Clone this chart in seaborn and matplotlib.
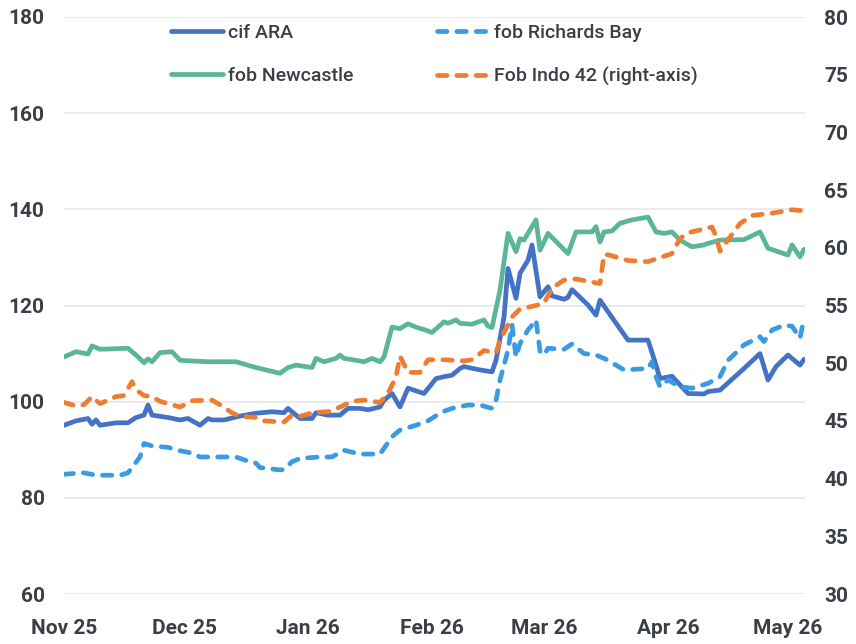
import pandas as pd
import matplotlib
matplotlib.use("Agg")
import matplotlib.pyplot as plt
import matplotlib.dates as mdates
import seaborn as sns

# --- data ---
ara_dates = ["2025-11-01", "2025-11-04", "2025-11-07", "2025-11-08", "2025-11-09", "2025-11-10",
             "2025-11-14", "2025-11-17", "2025-11-19", "2025-11-21", "2025-11-22", "2025-11-23",
             "2025-11-27", "2025-11-30", "2025-12-02", "2025-12-05", "2025-12-07", "2025-12-08",
             "2025-12-11", "2025-12-15", "2025-12-19", "2025-12-23", "2025-12-26", "2025-12-27",
             "2025-12-30", "2026-01-02", "2026-01-03", "2026-01-06", "2026-01-09", "2026-01-11",
             "2026-01-14", "2026-01-16", "2026-01-19", "2026-01-20", "2026-01-22", "2026-01-24",
             "2026-01-26", "2026-01-30", "2026-02-02", "2026-02-04", "2026-02-06", "2026-02-08",
             "2026-02-09", "2026-02-13", "2026-02-16", "2026-02-17", "2026-02-19", "2026-02-20",
             "2026-02-22", "2026-02-23", "2026-02-25", "2026-02-26", "2026-02-28", "2026-03-02",
             "2026-03-03", "2026-03-06", "2026-03-07", "2026-03-08", "2026-03-12", "2026-03-14",
             "2026-03-15", "2026-03-17", "2026-03-22", "2026-03-27", "2026-03-29", "2026-03-30",
             "2026-04-02", "2026-04-04", "2026-04-06", "2026-04-10", "2026-04-11", "2026-04-14",
             "2026-04-20", "2026-04-24", "2026-04-26", "2026-04-28", "2026-05-01", "2026-05-02",
             "2026-05-04", "2026-05-05"]
ara_vals = [95.1, 96.0, 96.5, 95.3, 96.2, 95.1,
            95.6, 95.6, 96.7, 97.2, 99.3, 97.2,
            96.7, 96.2, 96.5, 95.1, 96.5, 96.2,
            96.2, 97.0, 97.6, 97.9, 97.7, 98.6,
            96.5, 96.5, 97.7, 97.2, 97.2, 98.6,
            98.6, 98.3, 98.9, 100.3, 101.7, 98.9,
            102.8, 101.7, 104.8, 105.2, 105.5, 106.9,
            107.3, 106.6, 106.2, 108.6, 117.6, 127.7,
            121.5, 126.7, 129.4, 132.6, 121.8, 123.9,
            122.0, 121.3, 121.7, 123.3, 120.1, 118.0,
            121.1, 118.7, 112.8, 112.8, 107.6, 104.8,
            105.3, 103.5, 101.7, 101.6, 102.1, 102.4,
            106.9, 110.0, 104.5, 107.3, 109.7, 109.0,
            107.6, 108.8]

newc_dates = ["2025-11-01", "2025-11-04", "2025-11-07", "2025-11-08", "2025-11-10", "2025-11-17",
              "2025-11-19", "2025-11-21", "2025-11-22", "2025-11-23", "2025-11-25", "2025-11-28",
              "2025-11-30", "2025-12-07", "2025-12-14", "2025-12-19", "2025-12-25", "2025-12-27",
              "2025-12-29", "2026-01-02", "2026-01-03", "2026-01-05", "2026-01-08", "2026-01-09",
              "2026-01-10", "2026-01-13", "2026-01-15", "2026-01-17", "2026-01-19", "2026-01-20",
              "2026-01-22", "2026-01-24", "2026-01-26", "2026-01-28", "2026-01-30", "2026-02-01",
              "2026-02-04", "2026-02-05", "2026-02-07", "2026-02-08", "2026-02-11", "2026-02-14",
              "2026-02-15", "2026-02-16", "2026-02-18", "2026-02-20", "2026-02-22", "2026-02-23",
              "2026-02-24", "2026-02-27", "2026-02-28", "2026-03-02", "2026-03-07", "2026-03-09",
              "2026-03-13", "2026-03-14", "2026-03-15", "2026-03-16", "2026-03-18", "2026-03-20",
              "2026-03-23", "2026-03-27", "2026-03-29", "2026-03-31", "2026-04-02", "2026-04-04",
              "2026-04-07", "2026-04-10", "2026-04-11", "2026-04-14", "2026-04-20", "2026-04-24",
              "2026-04-26", "2026-05-01", "2026-05-02", "2026-05-04", "2026-05-05"]
newc_vals = [109.3, 110.4, 109.9, 111.6, 110.9, 111.1,
             109.7, 108.1, 108.9, 108.3, 110.2, 110.4,
             108.6, 108.3, 108.3, 107.1, 105.9, 107.1,
             107.6, 107.1, 109.0, 108.3, 109.0, 109.7,
             109.0, 108.6, 108.3, 109.0, 108.3, 109.3,
             115.5, 115.2, 116.2, 115.5, 115.0, 114.4,
             116.6, 116.3, 117.0, 116.3, 116.1, 117.0,
             115.7, 115.4, 123.2, 135.0, 131.2, 133.9,
             133.6, 137.8, 131.5, 135.0, 130.8, 135.3,
             135.3, 136.4, 133.2, 135.3, 135.5, 137.1,
             137.8, 138.4, 135.3, 135.0, 135.3, 133.6,
             132.2, 132.6, 132.9, 133.6, 133.7, 135.3,
             131.9, 130.5, 132.6, 130.1, 131.7]

rb_dates = ["2025-11-01", "2025-11-04", "2025-11-06", "2025-11-09", "2025-11-15", "2025-11-17",
            "2025-11-20", "2025-11-21", "2025-11-23", "2025-11-27", "2025-11-30", "2025-12-03",
            "2025-12-05", "2025-12-14", "2025-12-16", "2025-12-19", "2025-12-20", "2025-12-25",
            "2025-12-26", "2025-12-28", "2025-12-30", "2026-01-04", "2026-01-07", "2026-01-10",
            "2026-01-14", "2026-01-19", "2026-01-20", "2026-01-22", "2026-01-24", "2026-01-28",
            "2026-01-31", "2026-02-03", "2026-02-04", "2026-02-06", "2026-02-10", "2026-02-13",
            "2026-02-16", "2026-02-17", "2026-02-18", "2026-02-20", "2026-02-21", "2026-02-22",
            "2026-02-23", "2026-02-25", "2026-02-27", "2026-02-28", "2026-03-01", "2026-03-02",
            "2026-03-06", "2026-03-08", "2026-03-11", "2026-03-14", "2026-03-16", "2026-03-17",
            "2026-03-21", "2026-03-27", "2026-03-28", "2026-03-29", "2026-03-30", "2026-04-01",
            "2026-04-04", "2026-04-07", "2026-04-11", "2026-04-14", "2026-04-16", "2026-04-20",
            "2026-04-24", "2026-04-25", "2026-04-27", "2026-04-30", "2026-05-02", "2026-05-04",
            "2026-05-05"]
rb_vals = [84.9, 85.1, 85.2, 84.7, 84.7, 85.2,
           88.5, 91.3, 90.8, 90.5, 89.8, 89.3,
           88.5, 88.5, 87.9, 87.2, 86.3, 85.8,
           85.9, 87.5, 88.2, 88.5, 88.5, 89.9,
           89.1, 89.1, 90.3, 92.7, 94.1, 95.1,
           96.0, 97.6, 98.0, 98.6, 99.3, 99.3,
           98.6, 100.3, 104.5, 110.7, 116.0, 109.3,
           112.1, 114.9, 117.0, 110.5, 109.7, 111.1,
           110.9, 112.0, 110.0, 109.7, 109.0, 108.6,
           106.6, 106.9, 108.3, 105.2, 103.1, 104.5,
           103.1, 102.8, 103.8, 105.2, 108.6, 111.8,
           113.5, 112.5, 114.9, 115.9, 115.7, 113.2,
           117.3]

indo_dates = ["2025-11-01", "2025-11-04", "2025-11-06", "2025-11-08", "2025-11-10", "2025-11-14",
              "2025-11-16", "2025-11-18", "2025-11-19", "2025-11-21", "2025-11-23", "2025-11-25",
              "2025-11-30", "2025-12-03", "2025-12-08", "2025-12-10", "2025-12-13", "2025-12-15",
              "2025-12-19", "2025-12-21", "2025-12-26", "2025-12-28", "2025-12-30", "2026-01-02",
              "2026-01-06", "2026-01-09", "2026-01-12", "2026-01-15", "2026-01-19", "2026-01-21",
              "2026-01-23", "2026-01-24", "2026-01-26", "2026-01-29", "2026-01-31", "2026-02-04",
              "2026-02-09", "2026-02-11", "2026-02-14", "2026-02-17", "2026-02-18", "2026-02-21",
              "2026-02-23", "2026-02-27", "2026-03-01", "2026-03-03", "2026-03-06", "2026-03-09",
              "2026-03-15", "2026-03-16", "2026-03-17", "2026-03-22", "2026-03-27", "2026-04-02",
              "2026-04-04", "2026-04-06", "2026-04-12", "2026-04-13", "2026-04-14", "2026-04-16",
              "2026-04-19", "2026-04-22", "2026-04-27", "2026-05-02", "2026-05-05"]
indo_vals = [46.6, 46.3, 46.4, 47.1, 46.5, 47.1,
             47.2, 48.4, 47.7, 47.2, 47.1, 46.7,
             46.2, 46.75, 46.8, 46.4, 45.7, 45.4,
             45.3, 45.0, 44.9, 45.5, 45.4, 45.7,
             45.8, 46.2, 46.7, 46.8, 46.6, 47.4,
             48.8, 50.6, 49.2, 49.2, 50.3, 50.3,
             50.2, 50.3, 51.1, 50.9, 52.0, 54.0,
             54.7, 55.0, 55.2, 56.5, 57.2, 57.3,
             56.9, 59.4, 59.4, 58.9, 58.8, 59.5,
             60.8, 61.3, 61.8, 61.0, 59.7, 60.7,
             62.1, 62.8, 63.0, 63.3, 63.2]

left_ticks = [60, 80, 100, 120, 140, 160, 180]
right_ticks = [30, 35, 40, 45, 50, 55, 60, 65, 70, 75, 80]

BLUE = "#4472C4"
LIGHT_BLUE = "#3A9BE3"
GREEN = "#5BB597"
ORANGE = "#EF7D31"
TEXT = "#3A3F47"
GRID = "#EBEBEB"

sns.set_style("white")
plt.rcParams['font.family'] = ['Roboto', 'DejaVu Sans']

fig = plt.figure(figsize=(8.56, 6.44), dpi=100)
ax = fig.add_axes([64 / 856, 50 / 644, 741 / 856, 577 / 644])
ax2 = ax.twinx()

LW = 3.4
sns.lineplot(x=pd.to_datetime(ara_dates), y=ara_vals, ax=ax, color=BLUE, linewidth=LW,
             label="cif ARA", legend=False)
sns.lineplot(x=pd.to_datetime(newc_dates), y=newc_vals, ax=ax, color=GREEN, linewidth=LW,
             label="fob Newcastle", legend=False)
sns.lineplot(x=pd.to_datetime(rb_dates), y=rb_vals, ax=ax, color=LIGHT_BLUE, linewidth=LW,
             label="fob Richards Bay", legend=False)
sns.lineplot(x=pd.to_datetime(indo_dates), y=indo_vals, ax=ax2, color=ORANGE, linewidth=LW,
             label="Fob Indo 42 (right-axis)", legend=False)

solid_lines = ax.get_lines()[:2]
dashed_lines = [ax.get_lines()[2], ax2.get_lines()[0]]
for ln in solid_lines:
    ln.set_solid_capstyle("round")
    ln.set_solid_joinstyle("round")
for ln in dashed_lines:
    ln.set_dashes((2.0, 2.1))
    ln.set_dash_capstyle("round")
    ln.set_dash_joinstyle("round")

# axes ranges and ticks
ax.set_ylim(60, 180)
ax.set_yticks(left_ticks)
ax2.set_ylim(30, 80)
ax2.set_yticks(right_ticks)
ax.set_xlim(pd.Timestamp("2025-11-01"), pd.Timestamp("2026-05-05 06:00"))
ax.xaxis.set_major_locator(mdates.MonthLocator())
ax.xaxis.set_major_formatter(mdates.DateFormatter("%b %y"))

for a in (ax, ax2):
    a.set_xlabel("")
    a.set_ylabel("")
    for s in a.spines.values():
        s.set_visible(False)

ax.grid(axis="y", color=GRID, linewidth=1.5)
ax.grid(axis="x", visible=False)
ax2.grid(False)
ax.set_axisbelow(True)

ax.tick_params(axis="y", length=0, pad=14, labelsize=15, labelcolor=TEXT)
ax2.tick_params(axis="y", length=0, pad=14, labelsize=15, labelcolor=TEXT)
ax.tick_params(axis="x", length=6, width=1.2, color="#E2E2E2", pad=12, labelsize=15, labelcolor=TEXT)
for lab in ax.get_xticklabels() + ax.get_yticklabels() + ax2.get_yticklabels():
    lab.set_fontweight("bold")

handles = solid_lines + dashed_lines
labels = [h.get_label() for h in handles]
leg = ax2.legend(handles, labels, ncol=2, frameon=False, loc="upper left",
                 bbox_to_anchor=(161 / 856, 1 - 14 / 644), bbox_transform=fig.transFigure,
                 borderpad=0, handlelength=2.68, handletextpad=0.25, columnspacing=4.3,
                 labelspacing=1.28, prop={"size": 14, "weight": "medium"})
for t in leg.get_texts():
    t.set_color(TEXT)

fig.savefig("out.png", dpi=100)
